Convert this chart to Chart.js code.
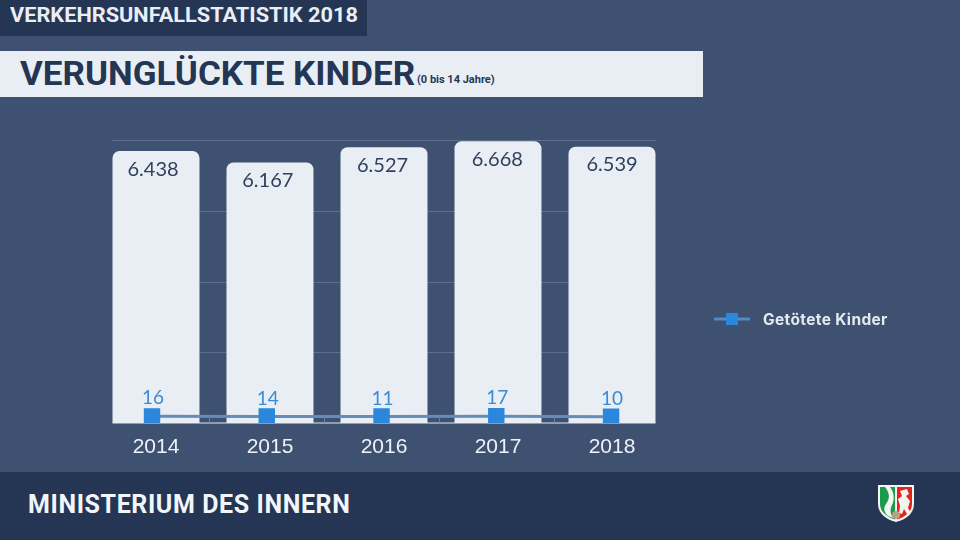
<!DOCTYPE html>
<html lang="de">
<head>
<meta charset="utf-8">
<title>Verunglückte Kinder</title>
<script src="https://cdn.jsdelivr.net/npm/chart.js@4"></script>
<style>
  html, body { margin: 0; padding: 0; }
  body { width: 960px; height: 540px; background: #3e5170; overflow: hidden; position: relative; font-family: Roboto, sans-serif; }
  canvas { position: absolute; left: 0; top: 0; }
  .band { position: absolute; white-space: nowrap; }
  #kopf { left: 0; top: 0; width: 367px; height: 36px; background: #243654; }
  #kopf span { position: absolute; left: 10px; top: 2px; font-weight: 700; font-size: 21px; line-height: 26px; color: #e9eef5; transform-origin: left center; transform: scaleX(1.035); }
  #titel { left: 0; top: 51px; width: 703px; height: 46px; background: #e9eef5; }
  #titel b { position: absolute; left: 20px; top: 2px; font-size: 33px; line-height: 42px; color: #243654; transform-origin: left center; transform: scaleX(1.06); }
  #titel i { position: absolute; left: 417px; top: 22px; font-style: normal; font-weight: 700; font-size: 11px; line-height: 14px; color: #243654; }
  #fuss { left: 0; top: 472px; width: 960px; height: 68px; background: #243654; }
  #fuss span { position: absolute; left: 28px; top: 18px; font-weight: 700; font-size: 25px; line-height: 30px; letter-spacing: 0.6px; color: #f2f5f9; }
  #wappen { position: absolute; left: 877px; top: 484px; }
</style>
</head>
<body>
<canvas id="chart" width="960" height="540"></canvas>
<div class="band" id="kopf"><span>VERKEHRSUNFALLSTATISTIK 2018</span></div>
<div class="band" id="titel"><b>VERUNGLÜCKTE KINDER</b><i>(0 bis 14 Jahre)</i></div>
<div class="band" id="fuss"><span>MINISTERIUM DES INNERN</span></div>
<svg id="wappen" width="38" height="39" viewBox="0 0 38 39">
  <path d="M1 1H37V20C37 30 28 36 19 38C10 36 1 30 1 20Z" fill="#f4f4f2"/>
  <path d="M3 3H18V35.5C10 33 3 28 3 20Z" fill="#1c9a4c"/>
  <path d="M20 3H35V20C35 28 28 33 20 35.5Z" fill="#e2231a"/>
  <path d="M8 3C13 9 13 15 9 20C6 24 7 28 11 32L16 34C13 29 13 25 15 21C18 15 17 8 13 3Z" fill="#f4f4f2"/>
  <path d="M23 7L30 5L32 10L29 12L33 17L31 24L34 29L30 30L27 25L25 30L22 29L23 22L21 15L25 12Z" fill="#f4f4f2"/>
  <circle cx="19" cy="31" r="4" fill="#b9a27f"/>
</svg>
<script>
// Daten
const jahre = ['2014', '2015', '2016', '2017', '2018'];
const verunglueckte = [6438, 6167, 6527, 6668, 6539];
const getoetete = [16, 14, 11, 17, 10];
const yTicks = [0, 1675, 3350, 5025, 6700];
const legendeText = 'Getötete Kinder';

const fmt = v => v.toLocaleString('de-DE');

// Gitter nur ueber die Breite der Balken
const gitter = {
  id: 'gitter',
  beforeDatasetsDraw(chart) {
    const { ctx, scales } = chart;
    const bars = chart.getDatasetMeta(1).data;
    const links = bars[0].x - bars[0].width / 2;
    const rechts = bars[bars.length - 1].x + bars[bars.length - 1].width / 2;
    ctx.save();
    ctx.lineWidth = 1;
    yTicks.forEach(t => {
      const y = Math.round(scales.y.getPixelForValue(t));
      ctx.strokeStyle = t === 0 ? '#8d9db5' : '#5b6f8d';
      ctx.lineWidth = t === 0 ? 2 : 1;
      ctx.beginPath();
      ctx.moveTo(links, y + (t === 0 ? 0 : 0.5));
      ctx.lineTo(rechts, y + (t === 0 ? 0 : 0.5));
      ctx.stroke();
    });
    ctx.restore();
  }
};

// Werte, Hilfsstriche und Legende
const extras = {
  id: 'extras',
  afterDatasetsDraw(chart) {
    const { ctx, scales } = chart;
    const barMeta = chart.getDatasetMeta(1);
    const lineMeta = chart.getDatasetMeta(0);
    ctx.save();
    ctx.textAlign = 'center';
    ctx.textBaseline = 'middle';

    ctx.font = '20px Lato';
    ctx.fillStyle = '#2f3f5c';
    barMeta.data.forEach((bar, i) => {
      ctx.fillText(fmt(verunglueckte[i]), scales.x2.getPixelForValue(i) + 1, bar.y + 18);
    });

    ctx.font = '19px Lato';
    ctx.fillStyle = '#3a8bd6';
    lineMeta.data.forEach((pt, i) => {
      ctx.fillText(getoetete[i], pt.x + 1, pt.y - 18);
    });

    // kleine Striche der Linienachse
    ctx.strokeStyle = '#6a7f9c';
    ctx.lineWidth = 1;
    for (let i = 0; i < jahre.length - 1; i++) {
      const x = Math.round(scales.x2.getPixelForValue(i + 0.5)) + 0.5;
      ctx.beginPath();
      ctx.moveTo(x, lineMeta.data[i].y);
      ctx.lineTo(x, chart.chartArea.bottom);
      ctx.stroke();
    }

    // Legende
    const lx = 714, ly = 319;
    ctx.strokeStyle = '#4f8cc9';
    ctx.lineWidth = 3;
    ctx.beginPath();
    ctx.moveTo(lx, ly);
    ctx.lineTo(lx + 36, ly);
    ctx.stroke();
    ctx.fillStyle = '#2a87dc';
    ctx.fillRect(lx + 12, ly - 6, 12, 12);
    ctx.textAlign = 'left';
    ctx.font = 'bold 15.5px Inter';
    ctx.letterSpacing = '0.35px';
    ctx.fillStyle = '#e4e9f1';
    ctx.fillText(legendeText, 763, ly + 1);
    ctx.restore();
  }
};

const config = {
  type: 'bar',
  data: {
    labels: jahre,
    datasets: [
      {
        type: 'line',
        label: legendeText,
        data: getoetete.map((v, i) => ({ x: i, y: v })),
        xAxisID: 'x2',
        yAxisID: 'y2',
        borderColor: '#648db9',
        borderWidth: 3,
        pointStyle: 'rect',
        pointRadius: 9.5,
        pointBackgroundColor: '#2a87dc',
        pointBorderColor: '#2a87dc',
        order: 0
      },
      {
        type: 'bar',
        label: 'Verunglückte Kinder',
        data: verunglueckte,
        backgroundColor: '#e9eef5',
        borderRadius: { topLeft: 7, topRight: 7, bottomLeft: 0, bottomRight: 0 },
        borderSkipped: false,
        grouped: false,
        categoryPercentage: 1,
        barPercentage: 0.763,
        order: 1
      }
    ]
  },
  options: {
    responsive: false,
    animation: false,
    layout: { padding: { left: 99, right: 291, top: 140, bottom: 0 } },
    plugins: { legend: { display: false }, title: { display: false }, tooltip: { enabled: false } },
    scales: {
      x: {
        afterFit(s) { s.height = 117; },
        grid: { display: false, drawTicks: false },
        border: { display: false },
        ticks: { color: '#eef2f7', font: { family: 'Liberation Sans', size: 21 }, padding: 12, maxRotation: 0 }
      },
      x2: {
        type: 'linear',
        display: false,
        offset: false,
        min: -0.462,
        max: 4.505
      },
      y: {
        min: 0,
        max: 6700,
        grid: { display: false, drawTicks: false },
        border: { display: false },
        ticks: { display: false }
      },
      y2: {
        display: false,
        min: -125,
        max: 5875
      }
    }
  },
  plugins: [gitter, extras]
};

new Chart(document.getElementById('chart').getContext('2d'), config);
</script>
</body>
</html>
